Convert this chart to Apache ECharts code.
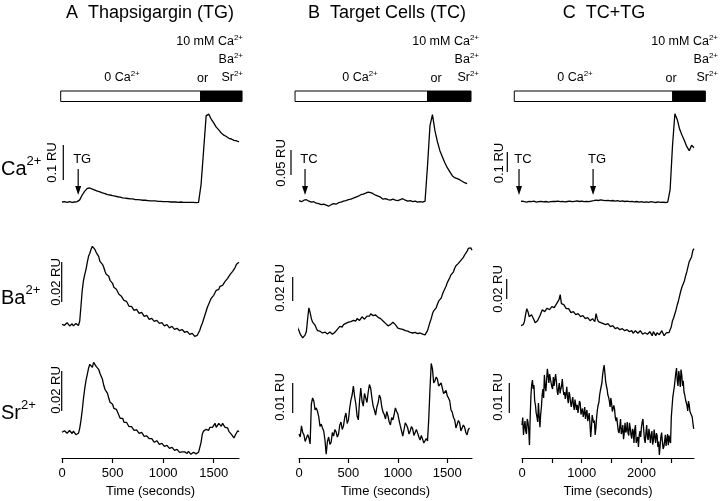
<!DOCTYPE html>
<html><head><meta charset="utf-8">
<script src="https://cdn.jsdelivr.net/npm/echarts@6/dist/echarts.min.js"></script>
<style>html,body{margin:0;padding:0;background:#fff}#c{width:720px;height:501px}</style>
</head><body><div id="c"></div><script>
// ---------------- DATA (values in mRU = 0.001 ratio units, relative to start) ----------------
// Column A: Thapsigargin (TG)
const A_CA = [0,1,-1,1,-1,0,1,6,20,31, 39,40,37,34,31,29,26,24,21,20, 18,17,15,14,12,11,10,9,9,7, 7,6,5,5,4,3,3,3,2,2, 1,1,1,0,0,0,-1,0,-1,-1, -1,-1,-1,-2,-1,50,147,246,251,237, 226,214,206,197,191,187,182,180,176,175, 172];
const A_BA = [0,0.6, -0.5,-1, 0.8,0, -0.8,0.2, 0.3,-0.8, -1,0.4, 0.2,-0.6, 1.5,9, 17,22, 25,27.5,
  31,34, 35.5,37.5, 39,39.5, 37.5,36, 35.5,34, 31.5,30.5, 30,28.5, 26.5,25, 25.5,24, 22,21.5,
  20.5,18.5, 17.5,17.5, 16.5,15, 14,14, 13.5,12, 11,11.5, 10.5,9, 8.5,9, 8.5,7, 6.5,7.5,
  7,5.5, 5,6, 5,4, 3.5,4.5, 3.5,2.5, 2,3, 2.5,1.5, 1,2, 1.5,0.5, 0,0.8,
  0.2,-0.8, -1.2,-0.2, -0.8,-1.8, -2,-1, -1.5,-2.5, -3,-2, -2.5,-3.2, -3.5,-2.6, -3,-4, -4.5,-3.5,
  -4,-5, -5.5,-4.5, -5,-6, -6.2,-5.5, -4.5,-3, -1,0.5, 2.5,4.5, 6.5,8.5, 10,11, 13,14,
  14.5,15.5, 17,16.5, 17.5,19, 20,19.5, 20.5,21.5, 22.5,23, 23.5,25, 26,26.5, 27,28.5, 30,31, 31];
const A_SR = [0,-0.8, 0.8,0.5, -0.5,-1, 0.9,0.3, -0.6,0.6, 0.2,-1.2, -1.3,-0.5, 2,6, 11,17, 22,26,
  29,32, 34,33, 32.5,35, 34.5,33, 33,31.5, 29.5,28.5, 26.5,23.5, 21.5,21, 19.5,17, 15,14.5,
  14,12, 11,11.5, 10.5,8.5, 7,7.5, 7,5, 4.5,5, 4,2.8, 2.5,2.8, 2,1, 1,1.2,
  0.5,-0.5, -1,0, -1,-2, -2.5,-1.8, -2,-3.2, -4,-3.2, -3.5,-5, -5.5,-4.2, -5,-6, -6.5,-5.5,
  -6,-7, -7.5,-6.5, -7,-8, -8.5,-7.5, -8,-9, -9,-8.5, -9.5,-10, -9,-9.8, -10.5,-9.8, -10,-10.6,
  -9.5,-10.4, -11,-10.2, -10,-11, -10.8,-10, -10,-10.5, -5,-0.8, 0.6,0, 1.5,2.2, 1,2.5, 3,2.5,
  3.5,4.5, 2.5,3.5, 4.5,3.5, 3,4.5, 3.8,2.5, 1.5,2.2, 0.5,-0.5, -1,-2, -2.8,-1.5, -1,0.8, 0.3];
// Column B: Target cells (TC)
const B_CA = [0,-2,1,2,-1,-3,-2,-5,-6,-8, -7,-9,-11,-8,-6,-7,-4,-3,-1,0, 2,3,5,7,9,12,13,15,17,16, 14,11,9,7,3,4,2,1,3,1, 0,2,4,1,-1,0,-2,-1,-3,-2, -3,-1,70,150,172,140,118,100,88,76, 66,58,50,46,44,42,39,36,34];
const B_BA = [8,4, 2,-1, -2,-4, -3,-1.5, 1.5,12, 21,17, 12,9, 8,6.5, 4,2, 2,1.5,
  1,0, -0.5,0.8, 1,-0.8, -0.5,0.8, 0.5,-1, -0.5,0.5, 1,3, 4,5.5, 6,5, 7,8.5,
  8,7.5, 9,10.5, 9.5,9, 10.5,11, 10,12, 11.5,10.5, 12,13.5, 13,11.5, 12.5,14, 13,14,
  16,17, 14.5,14, 15,14, 13,13, 12,11, 10,9, 8,7, 6,7, 7,8, 9,8,
  7,5.5, 4,4.5, 3.5,2, 3,3, 2,1, 1.5,1.5, 0.5,-0.5, 0,1, 0.5,-1, -0.5,0.5,
  0,-1.5, -1,-2, -1.5,0, 2,5.5, 9,12, 16,18.5, 20,21, 24,26.5, 28,29, 32,34.5,
  36,39, 42,43, 46,48.5, 50,51, 54,56, 57,58, 59,60.5, 61,63, 65,66, 68,70.5, 70,71, 69];
const B_SR = [0,-1, 2.7,0.5, -0.3,-2.5, -2.3,-0.2, -1.3,-3.3, 10,12, 11,8, 8.7,7.5, 5.7,2.5, 3.3,2,
  1,-2, -6.7,-2.5, -1,-3.5, -2.7,0.5, -0.7,1.5, 0.7,-1, 0,3, 4,1.5, 2.7,5.5, 7,3.5,
  4.7,8.5, 11.3,13, 16,12.5, 10,6, 4.7,11, 15.3,11, 9.3,13.5, 12,10.5, 14,16.5, 15.3,12,
  9.3,8, 6.3,9, 10.3,13, 12,9, 7.3,6.5, 5,7.5, 6,4, 3,5.5, 4.7,6.5, 8.7,7.5,
  6.7,4.5, 2.7,1, -0.7,1.5, 3.7,3, 2,0, 1,2.5, 1.7,-0.5, 0,1.5, 0.3,-1, -2,-0.5,
  -1.7,-3, -2.7,-1.5, -2.3,5, 15,23.5, 21.7,17, 17.7,19, 18.3,16, 16,17, 15.3,13.5, 13.3,14.5,
  12.7,12, 11,8, 7.3,5.5, 4.7,2, 1.7,4.5, 3.7,1, 1.3,3, 2.3,0.5, -0.3,1.5, 2];
// Column C: TC + TG
const C_CA = [0,2,-3,3,0,-2,2,0,3,-2, 0,2,-1,1,-2,0,2,1,3,0, 2,-1,1,3,0,2,4,1,3,0, 2,0,3,5,8,6,9,7,5,7, 4,6,3,5,2,4,1,3,0,2, -1,1,-2,0,-3,-1,-3,0,-2,-4, -1,-3,-2,-4,-2,60,280,440,410,362, 332,305,275,255,282,270];
const C_BA = [0,-4, -5,-9, -11,-8, -5,2, 8,5, 0,-1, 2,0, -3,-6, -7,-4, -3,1,
  4,7, 7,5, 6,8.5, 9,7, 8,10, 11,9, 10,13, 15,17, 22,13, 11,12,
  10,8, 7,8, 6,4, 3,5, 4,2, 1,3, 2,0, -1,1, 0,-2, -3,-1,
  -2,-4, -4,-2, -3,-5, 3,-2, -5,-4, -6,-8, -7,-6, -8,-9, -7,-9, -10,-8,
  -9,-11, -12,-10, -11,-12.5, -13,-11, -12,-14, -14,-12, -13,-15, -15,-13, -14,-16.5, -16,-14,
  -15,-16.5, -17,-14, -15,-17.5, -18,-16, -15,-17.5, -18,-15, -16,-19, -15,-17, -19,-16, -14,-18,
  -17,-14, -15,-19, -18,-16, -15,-16, -14,-10, -4,-1, 3,7, 12,16, 21,26, 30,32,
  36,41, 45,50, 55,56, 60,66, 68];
const C_SR = [0,2.5, -3.3,-0.5, 1.3,-2, -3,2, 1,-1.5, -6.7,3, 10,13.5, 15,12, 13.3,8, 6.7,4,
  2.7,1, 7.3,3, -0.7,3.5, 6,10, 12,9, 16.7,13, 11.3,15, 18.7,16.5, 14,17, 17.3,14,
  12.7,12, 16,13, 13.3,17, 14.7,11.5, 10,12.5, 14,10.5, 12,13, 15.3,12, 10,11, 8.7,10.5,
  12.7,9, 7.3,11, 10,7.5, 6,8, 9.3,6.5, 5,8.5, 8.7,5, 6.7,4, 4,8, 7.3,3.5,
  4.7,5.5, 2.7,4, 6,2, 4,5, 1.3,2.5, 4,0.5, -4,-1, 3.3,2, 0.7,1.5, -3.3,-1,
  2.7,5, 6.7,7.5, 10,11.5, 12,14, 16.7,18.5, 20,17.5, 14.7,13, 12,10, 9.3,8, 6,9,
  7.3,4.5, 4,6.5, 5.3,2.5, 1.3,2.5, 0,-2, -2.7,-0.5, 2,-3, -2,0, -4.7,-2.5, 0.7,-2.5,
  -1.7,1, -2.7,-3.5, 0.7,-1, -3.3,-4.5, -1.3,-2, -6,-1.5, 0,-6, -4.7,-4, -7.3,-3.5, -2,-4,
  -0.7,1, 2,-1.5, -4.7,-6, -2.7,0, -4,-5, -1.3,-3, -6,-3.5, -2,-6.5, -5.3,-1.5, -4,-6,
  -2.7,-3.5, -7.3,-5.5, -10,-7, -4,-2.5, -5.3,-8, -7.3,-5.5, -3.3,-7, -4.7,-3, -6.7,-3.5, -5.3,-6,
  2.7,6, 9.3,11, 12.7,15, 17.3,19, 14.7,13, 18,16, 12.7,18.5, 16.7,13, 14.7,11, 10,8.5,
  8,6.5, 4.7,8, 6.7,4.5, 4,5, 2.7,0.5, -1.3];
// sampling [start time, step] in seconds for each trace
const SAMPLING = {A_CA:[0,25],A_BA:[0,12.5],A_SR:[0,12.5],B_CA:[0,25],B_BA:[-25,12.5],B_SR:[0,12.5],C_CA:[-120,40],C_BA:[-80,20],C_SR:[0,12.5]};
const TITLES = ['A  Thapsigargin (TG)','B  Target Cells (TC)','C  TC+TG'];
const IONS = ['Ca','Ba','Sr'];
const STIMULI = [[['TG',160]],[['TC',61]],[['TC',-50],['TG',1190]]];
const SOLUTION = [[-13,1370,1780],[-40,1300,1740],[-129,2524,3070]]; // [start, switch, end] s
const SCALEBARS = [[0.1,0.05,0.1],[0.02,0.02,0.02],[0.02,0.01,0.01]]; // RU
const X_TICKS = [[0,500,1000,1500],[0,500,1000,1500],[0,500,1000,1500,2000,2500]];
const X_LABELS = [[0,500,1000,1500],[0,500,1000,1500],[0,1000,2000]];
const X_RANGE = [[0,1750],[0,1750],[0,2880]];

// ---------------- LAYOUT ----------------
const F = '"Liberation Sans", Arial, Helvetica, sans-serif';
const COLS = [{left:62,width:177,right:243,title:150,zero:122,or:202.5},
              {left:299,width:173,right:479,title:387,zero:360,or:436},
              {left:522,width:172,right:718,title:604,zero:575,or:671}];
const ROWS = [{top:100,height:115,label:167},{top:232,height:115,label:296},{top:352,height:106,label:411}];
const PANEL = [
 [{base:202,k:0.35,sx:63.3,sy:145,lx:52.5,ly:162.5},{base:200.7,k:0.5,sx:291,sy:150,lx:281,ly:163},{base:201.7,k:0.2,sx:507.3,sy:152,lx:499,ly:163}],
 [{base:324.3,k:2,sx:61.7,sy:262,lx:56,ly:282},{base:333,k:1.2,sx:292.7,sy:277,lx:280,ly:288},{base:316.7,k:1,sx:506.7,sy:279,lx:498,ly:289}],
 [{base:432.3,k:2,sx:61.7,sy:371,lx:56,ly:390},{base:434,k:3,sx:292.7,sy:383,lx:280,ly:397},{base:425,k:3,sx:509.3,sy:383,lx:498,ly:397}]
];
const TRACES = [[A_CA,B_CA,C_CA],[A_BA,B_BA,C_BA],[A_SR,B_SR,C_SR]];
const NAMES = [['A_CA','B_CA','C_CA'],['A_BA','B_BA','C_BA'],['A_SR','B_SR','C_SR']];

const grids=[],xAxes=[],yAxes=[],series=[];
for(let r=0;r<3;r++){for(let c=0;c<3;c++){
  const g=r*3+c, R=ROWS[r], C=COLS[c], P=PANEL[r][c];
  grids.push({left:C.left,top:R.top,width:C.width,height:R.height,containLabel:false});
  const bottomRow = r===2;
  xAxes.push({type:'value',gridIndex:g,min:X_RANGE[c][0],max:X_RANGE[c][1],show:bottomRow,
    axisLine:{show:true,onZero:false,lineStyle:{color:'#000',width:1.2}},
    axisTick:{show:true,length:5,lineStyle:{color:'#000',width:1.2},customValues:X_TICKS[c]},
    axisLabel:{color:'#000',fontSize:13,fontFamily:F,margin:9,customValues:X_LABELS[c],formatter:v=>String(v)},
    splitLine:{show:false},
    name:bottomRow?'Time (seconds)':'',nameLocation:'middle',nameGap:27,
    nameTextStyle:{color:'#000',fontSize:13,fontFamily:F}});
  yAxes.push({type:'value',gridIndex:g,show:false,
    min:(P.base-(R.top+R.height))/P.k,max:(P.base-R.top)/P.k,splitLine:{show:false}});
  const [t0,dt]=SAMPLING[NAMES[r][c]];
  series.push({type:'line',xAxisIndex:g,yAxisIndex:g,symbol:'none',clip:false,silent:true,
    lineStyle:{color:'#000',width:1.3},data:TRACES[r][c].map((v,i)=>[t0+i*dt,v])});
}}
const chart=echarts.init(document.getElementById('c'),null,{renderer:'canvas',width:720,height:501});
chart.setOption({animation:false,backgroundColor:'#fff',grid:grids,xAxis:xAxes,yAxis:yAxes,series:series});

// ---------------- annotations ----------------
const G=[];
function rt(x,y,main,sup,size,align){
  G.push({type:'text',x:x,y:y,silent:true,style:{
    text:'{m|'+main+'}'+(sup?'{s|'+sup+'}':''),align:align||'left',verticalAlign:'middle',fill:'#000',
    rich:{m:{fontSize:size,fontFamily:F,lineHeight:Math.round(size*1.2),verticalAlign:'bottom',fill:'#000'},
          s:{fontSize:Math.round(size*0.66),fontFamily:F,verticalAlign:'top',fill:'#000'}}}});
}
for(let c=0;c<3;c++){
  const C=COLS[c];
  G.push({type:'text',x:C.title,y:13,silent:true,style:{text:TITLES[c],font:'18px '+F,fill:'#000',align:'center',verticalAlign:'middle'}});
  rt(C.right,41,'10 mM Ca','2+',12.5,'right');
  rt(C.right,59,'Ba','2+',12.5,'right');
  rt(C.right,77,'Sr','2+',12.5,'right');
  rt(C.or,78,'or',null,12.5,'center');
  rt(C.zero,77,'0 Ca','2+',12.5,'center');
  const S=SOLUTION[c];
  const px=S.map(t=>chart.convertToPixel({xAxisIndex:c},t));
  G.push({type:'rect',silent:true,shape:{x:px[0],y:91,width:px[1]-px[0],height:10.5},style:{fill:'#fff',stroke:'#000',lineWidth:1}});
  G.push({type:'rect',silent:true,shape:{x:px[1],y:91,width:px[2]-px[1],height:10.5},style:{fill:'#000',stroke:'#000',lineWidth:1}});
  STIMULI[c].forEach(([lab,t])=>{
    const x=chart.convertToPixel({xAxisIndex:c},t);
    G.push({type:'text',x:x+4,y:159,silent:true,style:{text:lab,font:'13px '+F,fill:'#000',align:'center',verticalAlign:'middle'}});
    G.push({type:'line',silent:true,shape:{x1:x,y1:169,x2:x,y2:188},style:{stroke:'#000',lineWidth:1.2}});
    G.push({type:'polygon',silent:true,shape:{points:[[x-3,186],[x+3,186],[x,195]]},style:{fill:'#000'}});
  });
}
for(let r=0;r<3;r++){
  rt(1,ROWS[r].label,IONS[r],'2+',20,'left');
  for(let c=0;c<3;c++){
    const P=PANEL[r][c], ru=SCALEBARS[r][c];
    const len=ru*1000*P.k;
    G.push({type:'line',silent:true,shape:{x1:P.sx,y1:P.sy,x2:P.sx,y2:P.sy+len},style:{stroke:'#000',lineWidth:1.2}});
    G.push({type:'text',x:P.lx,y:P.ly,rotation:Math.PI/2,silent:true,style:{text:ru+' RU',font:'13px '+F,fill:'#000',align:'center',verticalAlign:'middle'}});
  }
}
chart.setOption({graphic:G});
</script></body></html>
